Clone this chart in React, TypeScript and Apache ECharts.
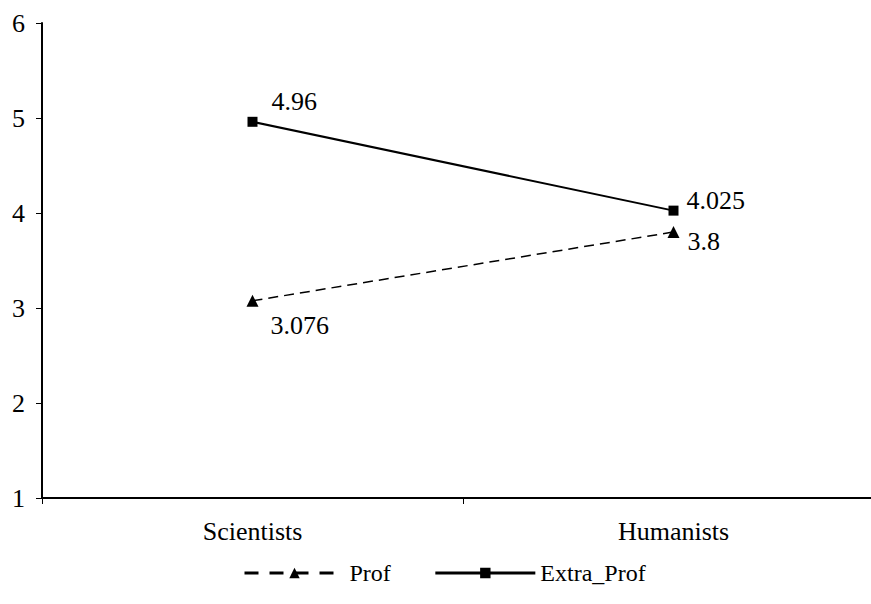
import React, { useEffect, useRef } from "react";
import * as echarts from "echarts";

const categories = ["Scientists", "Humanists"];
const profValues = [3.076, 3.8];
const extraProfValues = [4.96, 4.025];
const yTicks = [1, 2, 3, 4, 5, 6];

const FONT = "Times New Roman, Liberation Serif, DejaVu Serif, serif";

const profLabelOffsets = [[4, 25], [0, 9]];
const extraLabelOffsets = [[6, -20], [0, -10]];

export default function App() {
  const ref = useRef<HTMLDivElement>(null);
  useEffect(() => {
    document.body.style.margin = "0";
    document.body.style.overflow = "hidden";
    const chart = echarts.init(ref.current!, null, { renderer: "svg" });
    chart.setOption({
      animation: false,
      backgroundColor: "#ffffff",
      textStyle: { fontFamily: FONT, color: "#000" },
      grid: { left: 42, right: 0, top: 23, bottom: 106 },
      legend: {
        top: 556,
        left: 238,
        itemWidth: 100,
        itemHeight: 13,
        itemGap: 43,
        textStyle: { fontFamily: FONT, fontSize: 24, color: "#000" },
        data: [
          { name: "Prof", lineStyle: { width: 3, type: [14, 11] } },
          { name: "Extra_Prof", lineStyle: { width: 3 } },
        ],
      },
      xAxis: {
        type: "category",
        data: categories,
        boundaryGap: true,
        axisLine: { lineStyle: { color: "#000", width: 2 } },
        axisTick: { show: true, length: 6, lineStyle: { color: "#000", width: 1 } },
        axisLabel: { fontFamily: FONT, fontSize: 26, color: "#000", margin: 20 },
      },
      yAxis: {
        type: "value",
        min: yTicks[0],
        max: yTicks[yTicks.length - 1],
        interval: 1,
        splitLine: { show: false },
        axisLine: { show: true, lineStyle: { color: "#000", width: 2 } },
        axisTick: { show: true, length: 6, lineStyle: { color: "#000", width: 1 } },
        axisLabel: { fontFamily: FONT, fontSize: 26, color: "#000", margin: 17 },
      },
      series: [
        {
          name: "Prof",
          type: "line",
          data: profValues.map((v, i) => ({
            value: v,
            label: { offset: profLabelOffsets[i] },
          })),
          symbol: "triangle",
          symbolSize: 12,
          lineStyle: { color: "#000", width: 1.5, type: [10, 6] },
          itemStyle: { color: "#000" },
          label: {
            show: true,
            position: "right",
            distance: 8,
            fontFamily: FONT,
            fontSize: 26,
            color: "#000",
          },
        },
        {
          name: "Extra_Prof",
          type: "line",
          data: extraProfValues.map((v, i) => ({
            value: v,
            label: { offset: extraLabelOffsets[i] },
          })),
          symbol: "rect",
          symbolSize: 10,
          lineStyle: { color: "#000", width: 2, type: "solid" },
          itemStyle: { color: "#000" },
          label: {
            show: true,
            position: "right",
            distance: 8,
            fontFamily: FONT,
            fontSize: 26,
            color: "#000",
          },
        },
      ],
    });
    return () => chart.dispose();
  }, []);
  return <div ref={ref} style={{ width: 884, height: 604 }} />;
}
